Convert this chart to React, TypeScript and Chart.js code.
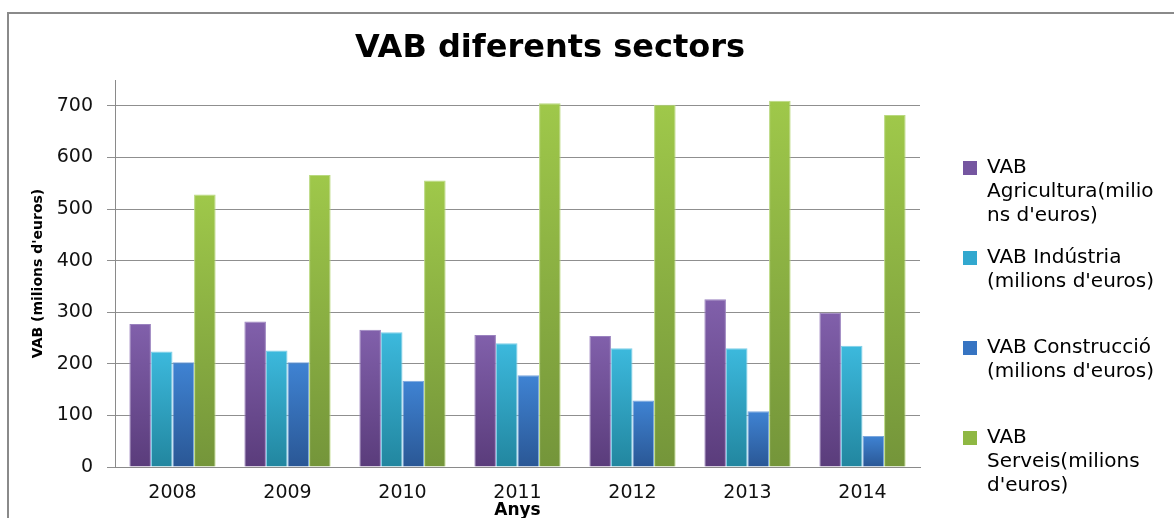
import React, { useEffect, useRef } from "react";
import { Chart, registerables } from "chart.js";

Chart.register(...registerables);

const years = ["2008", "2009", "2010", "2011", "2012", "2013", "2014"];
const agricultura = [277, 282, 266, 256, 254, 325, 299];
const industria = [224, 226, 261, 240, 230, 230, 235];
const construccio = [203, 203, 167, 178, 129, 108, 60];
const serveis = [528, 566, 555, 705, 702, 710, 682];

const seriesNames = [
  "VAB Agricultura(milions d'euros)",
  "VAB Indústria (milions d'euros)",
  "VAB Construcció (milions d'euros)",
  "VAB Serveis(milions d'euros)",
];
const legendLines = [
  ["VAB", "Agricultura(milio", "ns d'euros)"],
  ["VAB Indústria", "(milions d'euros)", ""],
  ["VAB Construcció", "(milions d'euros)", ""],
  ["VAB", "Serveis(milions", "d'euros)"],
];

const chartTitle = "VAB diferents sectors";
const xTitle = "Anys";
const yTitle = "VAB (milions d'euros)";
const yMin = 0;
const yMax = 750;
const yStep = 100;

const topColors = ["#8160ab", "#3cb9dd", "#3f83d3", "#9fc84a"];
const bottomColors = ["#5a3c7b", "#22869f", "#2a5795", "#74953a"];
const solidColors = ["#7556a0", "#32a8cf", "#3674c2", "#8fb843"];
const edgeColors = ["#9a82bf", "#7fd0e8", "#7aa7de", "#b9d97f"];

const FONT = "'DejaVu Sans', sans-serif";
const LEGEND_WIDTH = 229;

function gradientFor(i: number) {
  return (ctx: any) => {
    const chart = ctx.chart;
    const scale = chart.scales && chart.scales.y;
    if (!chart.chartArea || !scale || ctx.type !== "data") return solidColors[i];
    const top = scale.getPixelForValue(ctx.raw as number);
    const base = scale.getPixelForValue(0);
    if (!isFinite(top) || !isFinite(base) || top === base) return solidColors[i];
    const g = chart.ctx.createLinearGradient(0, top, 0, base);
    g.addColorStop(0, topColors[i]);
    g.addColorStop(1, bottomColors[i]);
    return g;
  };
}

const titlePlugin = {
  id: "customTitle",
  beforeLayout(chart: any) {
    const lg = chart.legend;
    if (lg && !lg.__fixedWidth) {
      const orig = lg.fit.bind(lg);
      lg.fit = function () {
        orig();
        this.width = LEGEND_WIDTH;
      };
      lg.__fixedWidth = true;
    }
  },
  afterDraw(chart: any) {
    const c = chart.ctx;
    c.save();
    c.font = `bold 32px ${FONT}`;
    c.fillStyle = "#000";
    c.textAlign = "center";
    c.textBaseline = "middle";
    c.fillText(chartTitle, 550, 49);
    c.restore();
  },
};

export default function App() {
  const ref = useRef<HTMLCanvasElement | null>(null);

  useEffect(() => {
    if (!ref.current) return;
    const series = [agricultura, industria, construccio, serveis];
    const chart = new Chart(ref.current, {
      type: "bar",
      data: {
        labels: years,
        datasets: series.map((d, i) => ({
          label: seriesNames[i],
          data: d,
          backgroundColor: gradientFor(i),
          borderColor: edgeColors[i],
          borderWidth: 1,
          categoryPercentage: 0.75,
          barPercentage: 1,
        })),
      },
      options: {
        responsive: false,
        animation: false,
        layout: { padding: { top: 80, left: 20, right: 0, bottom: 0 } },
        plugins: {
          title: { display: false },
          tooltip: { enabled: false },
          legend: {
            display: true,
            position: "right",
            align: "end",
            labels: {
              boxWidth: 14,
              boxHeight: 14,
              padding: 18,
              color: "#1a1a1a",
              font: { family: FONT, size: 20, lineHeight: 1.2 },
              generateLabels: () =>
                legendLines.map((lines, i) => ({
                  text: lines,
                  fillStyle: solidColors[i],
                  strokeStyle: solidColors[i],
                  lineWidth: 0,
                  hidden: false,
                  datasetIndex: i,
                })),
            },
          },
        },
        scales: {
          x: {
            grid: { display: false, drawTicks: false },
            border: { display: true, color: "#8a8a8a", width: 1 },
            ticks: {
              color: "#111",
              padding: 15,
              font: { family: FONT, size: 19, lineHeight: 1.2 },
            },
            title: {
              display: true,
              text: xTitle,
              color: "#000",
              font: { family: FONT, size: 17, weight: "bold", lineHeight: 1.2 },
              padding: { top: 0, bottom: -3 },
            },
            afterFit: (s: any) => {
              s.height = 51;
            },
          },
          y: {
            min: yMin,
            max: yMax,
            grid: { color: "#8f8f8f", lineWidth: 1, drawTicks: true, tickLength: 8, tickColor: "#8f8f8f" },
            border: { display: true, color: "#8a8a8a", width: 1 },
            ticks: {
              stepSize: yStep,
              includeBounds: false,
              color: "#111",
              padding: 14,
              font: { family: FONT, size: 19, lineHeight: 1.2 },
            },
            title: {
              display: true,
              text: yTitle,
              color: "#000",
              font: { family: FONT, size: 14, weight: "bold", lineHeight: 1.2 },
              padding: { top: 10, bottom: 0 },
            },
            afterFit: (s: any) => {
              s.width = 95;
            },
          },
          yPad: {
            type: "linear",
            position: "right",
            display: true,
            grid: { display: false, drawTicks: false },
            border: { display: false },
            ticks: { display: false },
            afterFit: (s: any) => {
              s.width = 25;
            },
          },
        },
      } as any,
      plugins: [titlePlugin],
    });
    return () => chart.destroy();
  }, []);

  return (
    <div style={{ position: "fixed", left: 0, top: 0, width: 1174, height: 518, background: "#fff" }}>
      <div
        style={{
          position: "absolute",
          left: 7,
          top: 12,
          width: 1180,
          height: 520,
          borderTop: "2px solid #8a8a8a",
          borderLeft: "2px solid #8a8a8a",
        }}
      />
      <canvas ref={ref} width={1174} height={518} style={{ position: "absolute", left: 0, top: 0 }} />
    </div>
  );
}
